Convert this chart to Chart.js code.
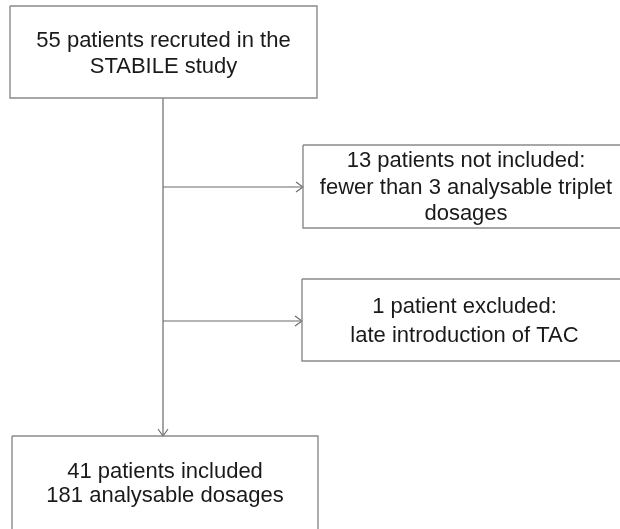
<!DOCTYPE html>
<html>
<head>
<meta charset="utf-8">
<script src="https://cdn.jsdelivr.net/npm/chart.js@4.4.1/dist/chart.umd.min.js"></script>
<style>
  html, body { margin: 0; padding: 0; background: #ffffff; }
  #wrap { width: 620px; height: 529px; }
</style>
</head>
<body>
<div id="wrap"><canvas id="flow"></canvas></div>
<script>
// flow steps (text of each box, one entry per line)
var stepLabels = [
  ["55 patients recruted in the", "STABILE study"],
  ["13 patients not included:", "fewer than 3 analysable triplet", "dosages"],
  ["1 patient excluded:", "late introduction of TAC"],
  ["41 patients included", "181 analysable dosages"]
];

// box extents in diagram units: [left, top, right, bottom]
var boxes = [
  [10, 6, 317, 98],
  [303, 145, 629, 228],
  [302, 279, 627, 361],
  [12, 436, 318, 545]
];
// first baseline of each box's text and line step
var textTop = [46.5, 167, 313, 478];
var lineStep = [26, 26.5, 29, 23.5];

var trunkX = 163;
var branchY = [187, 321];

function rect(b) {
  return [
    { x: b[0], y: b[1] }, { x: b[2], y: b[1] },
    { x: b[2], y: b[3] }, { x: b[0], y: b[3] }, { x: b[0], y: b[1] }
  ];
}

function lineSet(pts, color, w) {
  return {
    data: pts, showLine: true, borderColor: color, borderWidth: w,
    pointRadius: 0, fill: false, tension: 0
  };
}

var datasets = [];
boxes.forEach(function (b) { datasets.push(lineSet(rect(b), '#8a8a8a', 1.4)); });

// main trunk with down arrow
datasets.push(lineSet([{ x: trunkX, y: boxes[0][3] }, { x: trunkX, y: boxes[3][1] }], '#6a6a6a', 1.2));
datasets.push(lineSet([{ x: trunkX - 5, y: boxes[3][1] - 7 }, { x: trunkX, y: boxes[3][1] }, { x: trunkX + 5, y: boxes[3][1] - 7 }], '#6a6a6a', 1.1));

// side branches with open arrows
branchY.forEach(function (y, i) {
  var end = boxes[i + 1][0];
  datasets.push(lineSet([{ x: trunkX, y: y }, { x: end, y: y }], '#6a6a6a', 1.2));
  datasets.push(lineSet([{ x: end - 7, y: y - 5 }, { x: end, y: y }, { x: end - 7, y: y + 5 }], '#6a6a6a', 1.1));
});

var boxText = {
  id: 'boxText',
  afterDatasetsDraw: function (chart) {
    var ctx = chart.ctx, xs = chart.scales.x, ys = chart.scales.y;
    ctx.save();
    ctx.fillStyle = '#1a1a1a';
    ctx.font = '22px "Liberation Sans", Arial, sans-serif';
    ctx.textAlign = 'center';
    ctx.textBaseline = 'alphabetic';
    stepLabels.forEach(function (lines, i) {
      var b = boxes[i];
      var cx = xs.getPixelForValue((b[0] + b[2]) / 2);
      lines.forEach(function (t, j) {
        ctx.fillText(t, cx, ys.getPixelForValue(textTop[i] + j * lineStep[i]));
      });
    });
    ctx.restore();
  }
};

new Chart(document.getElementById('flow'), {
  type: 'scatter',
  data: { datasets: datasets },
  options: {
    responsive: true,
    maintainAspectRatio: false,
    animation: false,
    layout: { padding: 0 },
    plugins: { legend: { display: false }, tooltip: { enabled: false } },
    scales: {
      x: { type: 'linear', min: 0, max: 620, display: false },
      y: { type: 'linear', min: 0, max: 529, reverse: true, display: false }
    }
  },
  plugins: [boxText]
});
</script>
</body>
</html>
